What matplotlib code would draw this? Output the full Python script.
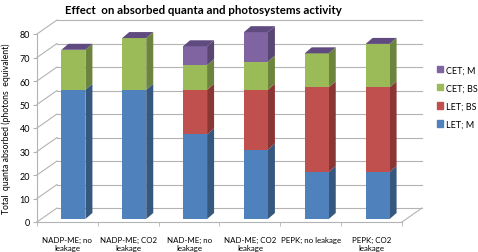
import matplotlib.pyplot as plt
import numpy as np
from matplotlib.patches import Polygon, Patch

plt.rcParams['font.family'] = ['Lato', 'DejaVu Sans']

categories = ['NADP-ME; no\nleakage', 'NADP-ME; CO2\nleakage', 'NAD-ME; no\nleakage',
              'NAD-ME; CO2\nleakage', 'PEPK; no leakage', 'PEPK; CO2\nleakage']
series_names = ['LET; M', 'LET; BS', 'CET; BS', 'CET; M']
let_m = [55, 55, 36, 29.5, 20, 20]
let_bs = [0, 0, 19, 25.5, 36, 36]
cet_bs = [17, 22, 10.5, 12, 14.5, 18.5]
cet_m = [0, 0, 8, 12.5, 0, 0]
y_ticks = [0, 10, 20, 30, 40, 50, 60, 70, 80]

front = ['#4F81BD', '#C0504D', '#9BBB59', '#8064A2']
side = ['#36587F', '#8A3634', '#6C843D', '#5A4673']
top_col = '#5F4B7F'
grid_col = '#B3B3B3'

W, H = 478, 253
fig = plt.figure(figsize=(W / 100, H / 100), dpi=100)
x0_px, x1_px = 37, 402
y0_px, y80_px = 223, 35
ax = fig.add_axes([x0_px / W, 1 - y0_px / H, (x1_px - x0_px) / W, (y0_px - y80_px) / H])
ax.set_xlim(-0.5, 5.5)
ax.set_ylim(0, 80)

px_x = (x1_px - x0_px) / 6.0
px_y = (y0_px - y80_px) / 80.0
# back wall offset and bar depth (pixels -> data units)
bdx, bdy = 20 / px_x, 14 / px_y
ddx, ddy = 7 / px_x, 6 / px_y
offx, offy = 6 / px_x, 3 / px_y
bw = 24 / px_x

# back wall gridlines + left wall diagonals
for v in y_ticks:
    ax.plot([-0.5 + bdx, 5.5 + bdx], [v + bdy, v + bdy], color=grid_col, lw=0.8, clip_on=False, zorder=1)
    ax.plot([-0.5, -0.5 + bdx], [v, v + bdy], color=grid_col, lw=0.8, clip_on=False, zorder=1)
ax.plot([5.5, 5.5 + bdx], [0, bdy], color=grid_col, lw=0.8, clip_on=False, zorder=1)

x = np.arange(len(categories))
stack = [let_m, let_bs, cet_bs, cet_m]
bottom = np.zeros(len(categories))
for i, vals in enumerate(stack):
    vals = np.array(vals, dtype=float)
    ax.bar(x + offx, vals, bw, bottom=bottom + offy, color=front[i], lw=0, zorder=3, clip_on=False)
    for j in range(len(x)):
        if vals[j] <= 0:
            continue
        xr = x[j] + offx + bw / 2
        yb = bottom[j] + offy
        yt = yb + vals[j]
        ax.add_patch(Polygon([[xr, yb], [xr + ddx, yb + ddy], [xr + ddx, yt + ddy], [xr, yt]],
                             closed=True, color=side[i], lw=0, zorder=2, clip_on=False))
    bottom = bottom + vals

for j in range(len(x)):
    xl = x[j] + offx - bw / 2
    xr = xl + bw
    yt = bottom[j] + offy
    ax.add_patch(Polygon([[xl, yt], [xr, yt], [xr + ddx, yt + ddy], [xl + ddx, yt + ddy]],
                         closed=True, color=top_col, lw=0, zorder=3, clip_on=False))

for s in ['top', 'right']:
    ax.spines[s].set_visible(False)
for s in ['left', 'bottom']:
    ax.spines[s].set_color(grid_col)
    ax.spines[s].set_linewidth(0.8)

ax.set_yticks(y_ticks)
ax.tick_params(axis='y', labelsize=6.5, length=3, color=grid_col, pad=2)
ax.set_xticks(x)
ax.set_xticklabels(categories, fontsize=5.7, linespacing=1.15)
ax.tick_params(axis='x', length=0, pad=10)
ax.set_xticks(np.arange(-0.5, 6, 1), minor=True)
ax.tick_params(axis='x', which='minor', length=3, color=grid_col)

ax.set_ylabel('Total  quanta absorbed (photons  equivalent)', fontsize=6.2, labelpad=6)
fig.text(203 / W, 1 - 10 / H, 'Effect  on absorbed quanta and photosystems activity',
         fontsize=8.3, fontweight='bold', ha='center', va='center')

handles = [Patch(color=front[i], label=series_names[i]) for i in [3, 2, 1, 0]]
fig.legend(handles=handles, loc='center left', bbox_to_anchor=(432 / W, 1 - 98 / H),
           frameon=False, fontsize=6.5, handlelength=0.7, handleheight=0.7,
           handletextpad=0.4, labelspacing=1.0, borderpad=0)

fig.savefig('out.png', dpi=100)
